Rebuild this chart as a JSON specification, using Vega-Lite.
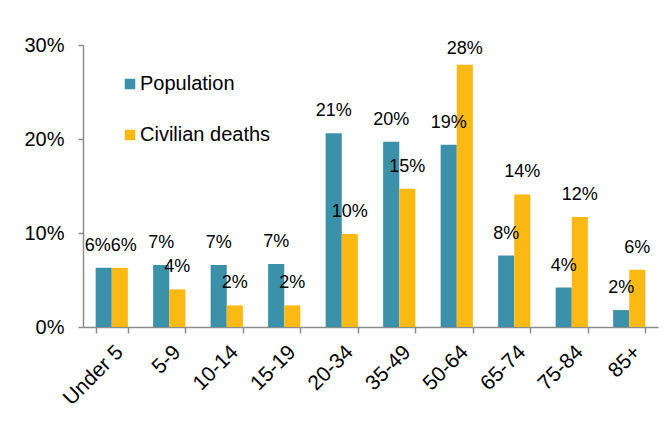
{
  "$schema": "https://vega.github.io/schema/vega-lite/v6.json",
  "width": 575,
  "height": 282,
  "autosize": {"type": "none"},
  "padding": {"left": 83, "top": 45, "right": 9, "bottom": 96},
  "background": "#ffffff",
  "config": {
    "view": {"stroke": null},
    "font": "Liberation Sans",
    "axis": {"labelFont": "Liberation Sans", "labelColor": "#000000", "domainColor": "#8c8c8c", "tickColor": "#8c8c8c", "domainWidth": 1.5, "tickWidth": 1.5, "grid": false, "title": null}
  },
  "data": {
    "values": [
      {"age": "Under 5", "series": "Population", "value": 0.063},
      {"age": "Under 5", "series": "Civilian deaths", "value": 0.063},
      {"age": "5-9", "series": "Population", "value": 0.066},
      {"age": "5-9", "series": "Civilian deaths", "value": 0.040},
      {"age": "10-14", "series": "Population", "value": 0.066},
      {"age": "10-14", "series": "Civilian deaths", "value": 0.023},
      {"age": "15-19", "series": "Population", "value": 0.067},
      {"age": "15-19", "series": "Civilian deaths", "value": 0.023},
      {"age": "20-34", "series": "Population", "value": 0.206},
      {"age": "20-34", "series": "Civilian deaths", "value": 0.099},
      {"age": "35-49", "series": "Population", "value": 0.197},
      {"age": "35-49", "series": "Civilian deaths", "value": 0.147},
      {"age": "50-64", "series": "Population", "value": 0.194},
      {"age": "50-64", "series": "Civilian deaths", "value": 0.279},
      {"age": "65-74", "series": "Population", "value": 0.076},
      {"age": "65-74", "series": "Civilian deaths", "value": 0.141},
      {"age": "75-84", "series": "Population", "value": 0.042},
      {"age": "75-84", "series": "Civilian deaths", "value": 0.117},
      {"age": "85+", "series": "Population", "value": 0.018},
      {"age": "85+", "series": "Civilian deaths", "value": 0.061}
    ]
  },
  "encoding": {
    "x": {
      "field": "age",
      "type": "nominal",
      "sort": ["Under 5", "5-9", "10-14", "15-19", "20-34", "35-49", "50-64", "65-74", "75-84", "85+"],
      "scale": {"paddingInner": 0.44, "paddingOuter": 0.22},
      "axis": {"labelAngle": -45, "labelAlign": "right", "labelBaseline": "top", "labelFontSize": 21, "labelPadding": 8, "labelDx": 4, "tickSize": 6, "tickBand": "extent"}
    },
    "xOffset": {"field": "series", "type": "nominal", "sort": ["Population", "Civilian deaths"], "scale": {"paddingInner": 0, "paddingOuter": 0}},
    "y": {
      "field": "value",
      "type": "quantitative",
      "scale": {"domain": [0, 0.3]},
      "axis": {"values": [0, 0.1, 0.2, 0.3], "format": ".0%", "labelFontSize": 20, "labelPadding": 14, "tickSize": 5}
    }
  },
  "layer": [
    {
      "mark": {"type": "bar"},
      "encoding": {
        "color": {
          "field": "series",
          "type": "nominal",
          "sort": ["Population", "Civilian deaths"],
          "scale": {"domain": ["Population", "Civilian deaths"], "range": ["#3b91a9", "#fdb913"]},
          "legend": {
            "orient": "none",
            "legendX": 37,
            "legendY": 29,
            "title": null,
            "symbolType": "square",
            "symbolSize": 110,
            "symbolStrokeWidth": 0,
            "labelFontSize": 20,
            "labelFont": "Liberation Sans",
            "labelColor": "#000000",
            "labelOffset": 0,
            "rowPadding": 31
          }
        }
      }
    },
    {
      "transform": [{"filter": "datum.age !== 'Under 5' && !(datum.age === '50-64' && datum.series === 'Civilian deaths')"}],
      "mark": {"type": "text", "baseline": "alphabetic", "dy": -17, "fontSize": 18, "color": "#000000"},
      "encoding": {"text": {"field": "value", "type": "quantitative", "format": ".0%"}}
    },
    {
      "transform": [{"filter": "datum.age === '50-64' && datum.series === 'Civilian deaths'"}],
      "mark": {"type": "text", "baseline": "alphabetic", "dy": -11, "fontSize": 18, "color": "#000000"},
      "encoding": {"text": {"field": "value", "type": "quantitative", "format": ".0%"}}
    },
    {
      "transform": [{"filter": "datum.age === 'Under 5' && datum.series === 'Population'"}],
      "mark": {"type": "text", "baseline": "alphabetic", "dy": -17, "dx": -6, "fontSize": 18, "color": "#000000"},
      "encoding": {"text": {"field": "value", "type": "quantitative", "format": ".0%"}}
    },
    {
      "transform": [{"filter": "datum.age === 'Under 5' && datum.series === 'Civilian deaths'"}],
      "mark": {"type": "text", "baseline": "alphabetic", "dy": -17, "dx": 4, "fontSize": 18, "color": "#000000"},
      "encoding": {"text": {"field": "value", "type": "quantitative", "format": ".0%"}}
    }
  ]
}
